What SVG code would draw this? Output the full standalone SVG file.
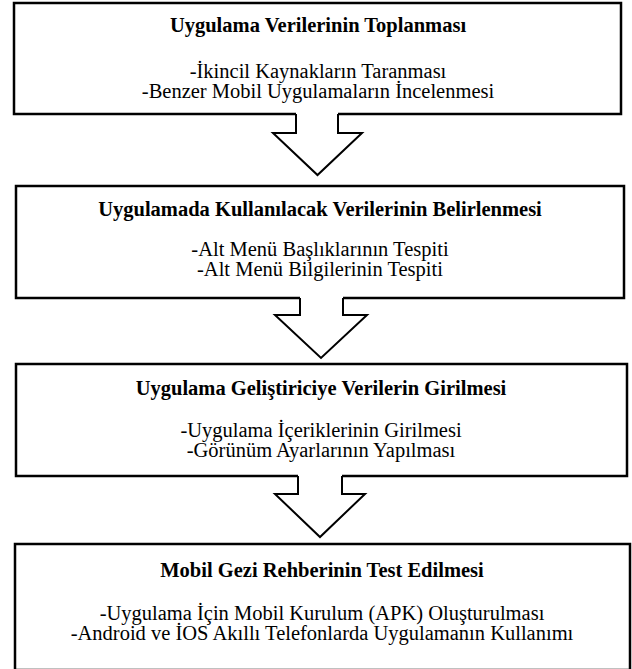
<svg xmlns="http://www.w3.org/2000/svg" width="632" height="669" viewBox="0 0 632 669">
<style>
.box{fill:#fff;stroke:#000;stroke-width:2.5;stroke-linejoin:miter}
.arr{fill:#fff;stroke:#000;stroke-width:2;stroke-linejoin:miter}
text{font-family:"Liberation Serif","Times New Roman",serif;font-size:20.5px;fill:#000;text-anchor:middle}
.t{font-weight:bold}
</style>
<rect x="0" y="0" width="632" height="669" fill="#fff"/>
<g id="n1">
<path class="box" d="M296,114 H14 V3 H621 V114 H338"/>
<text class="t" x="318" y="32">Uygulama Verilerinin Toplanması</text>
<text x="318" y="78">-İkincil Kaynakların Taranması</text>
<text x="318" y="98">-Benzer Mobil Uygulamaların İncelenmesi</text>
</g>
<g id="n2">
<path class="box" d="M300,298 H16 V186 H624 V298 H343"/>
<text class="t" x="320" y="216">Uygulamada Kullanılacak Verilerinin Belirlenmesi</text>
<text x="320" y="256">-Alt Menü Başlıklarının Tespiti</text>
<text x="320" y="276">-Alt Menü Bilgilerinin Tespiti</text>
</g>
<g id="n3">
<path class="box" d="M298,476 H16 V364 H627 V476 H342"/>
<text class="t" x="321" y="395">Uygulama Geliştiriciye Verilerin Girilmesi</text>
<text x="321" y="437">-Uygulama İçeriklerinin Girilmesi</text>
<text x="321" y="457">-Görünüm Ayarlarının Yapılması</text>
</g>
<g id="n4">
<rect class="box" x="15" y="544" width="615" height="126"/>
<text class="t" x="322" y="577">Mobil Gezi Rehberinin Test Edilmesi</text>
<text x="322" y="620">-Uygulama İçin Mobil Kurulum (APK) Oluşturulması</text>
<text x="322" y="640">-Android ve İOS Akıllı Telefonlarda Uygulamanın Kullanımı</text>
</g>
<g id="connectors">
<polyline class="arr" points="296,114 296,133 273,133 317.5,175 362,133 338,133 338,114"/>
<polyline class="arr" points="300,298 300,315 275,315 321,358 367,315 343,315 343,298"/>
<polyline class="arr" points="298,476 298,494 275,494 320,537 365,494 342,494 342,476"/>
</g>
</svg>
